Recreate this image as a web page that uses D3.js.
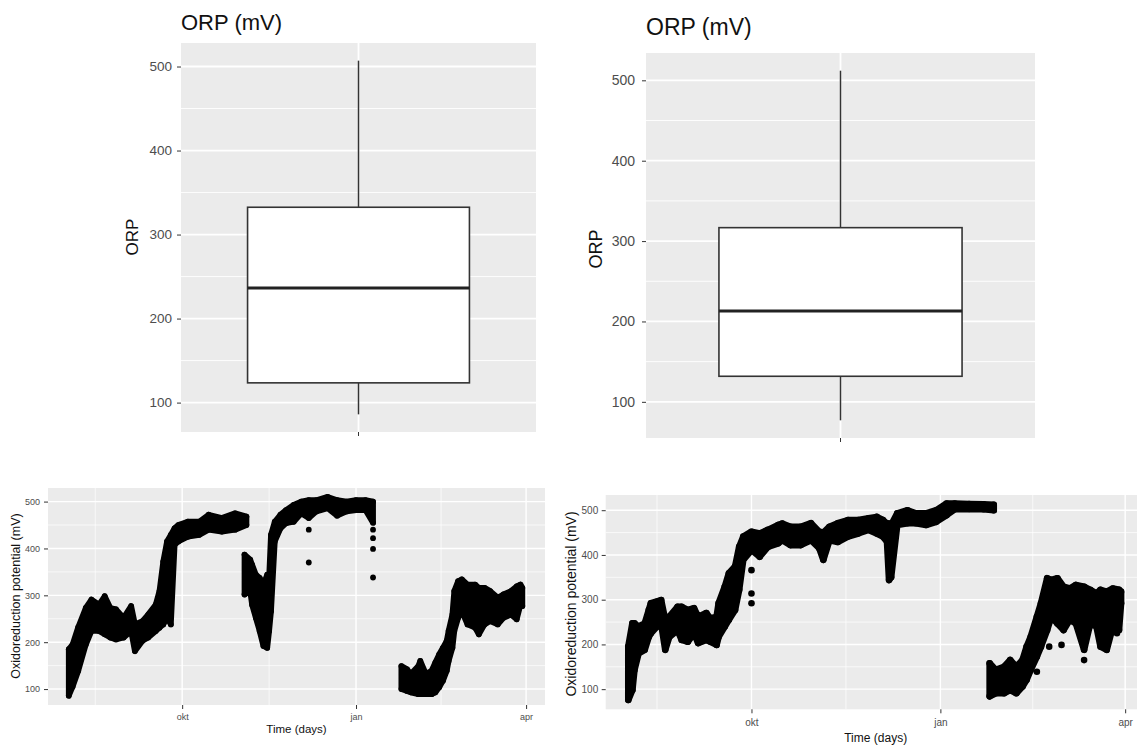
<!DOCTYPE html>
<html>
<head>
<meta charset="utf-8">
<script src="https://cdnjs.cloudflare.com/ajax/libs/d3/7.8.5/d3.min.js"></script>
<style>
  body { margin: 0; background: #fff; }
  svg { display: block; font-family: "Liberation Sans", Arial, sans-serif; }
</style>
</head>
<body>
<script>
// ---------------------------//
//          DATA              //
// ---------------------------//

// box stats: min, q1, median, q3, max
const orpLeftBox = [86, 123.5, 236.5, 332.5, 507];
const orpRightBox = [77, 131.8, 213, 316.7, 512];

const orpTicks = [100, 200, 300, 400, 500];
const orpMinor = [150, 250, 350, 450];

const monthTicks = ["2020-10-01", "2021-01-01", "2021-04-01"];
const monthLabels = ["okt", "jan", "apr"];
const monthMinor = ["2020-08-16", "2020-11-16", "2021-02-15"];
const timeRange = ["2020-07-22", "2021-04-11"];

// ORP readings, per date: [date, low, high]
const leftRun1 = [
  ["2020-08-02", 86, 185], ["2020-08-04", 105, 195], ["2020-08-07", 139, 232],
  ["2020-08-11", 195, 273], ["2020-08-14", 224, 291], ["2020-08-18", 224, 280],
  ["2020-08-21", 217, 298], ["2020-08-24", 210, 273], ["2020-08-27", 206, 270],
  ["2020-08-31", 210, 252], ["2020-09-04", 224, 277], ["2020-09-06", 181, 238],
  ["2020-09-10", 203, 245], ["2020-09-13", 210, 259], ["2020-09-17", 224, 280],
  ["2020-09-19", 231, 309], ["2020-09-21", 238, 372], ["2020-09-23", 252, 415],
  ["2020-09-25", 238, 429], ["2020-09-27", 408, 443], ["2020-09-29", 415, 450],
  ["2020-10-04", 425, 457], ["2020-10-10", 429, 457], ["2020-10-15", 440, 472],
  ["2020-10-22", 436, 465], ["2020-10-29", 440, 475], ["2020-11-04", 450, 468]
];
const leftRun2 = [
  ["2020-11-03", 302, 387], ["2020-11-06", 309, 376], ["2020-11-07", 280, 365],
  ["2020-11-09", 252, 344], ["2020-11-11", 224, 337], ["2020-11-13", 192, 323],
  ["2020-11-15", 188, 344], ["2020-11-16", 224, 337], ["2020-11-17", 266, 429],
  ["2020-11-19", 415, 457], ["2020-11-22", 443, 472], ["2020-11-25", 454, 482],
  ["2020-11-29", 457, 493], ["2020-12-03", 475, 500], ["2020-12-07", 465, 503],
  ["2020-12-11", 479, 503], ["2020-12-17", 486, 510], ["2020-12-22", 470, 503],
  ["2020-12-27", 479, 500], ["2021-01-01", 482, 503], ["2021-01-06", 482, 503],
  ["2021-01-10", 455, 500]
];
const leftRun3 = [
  ["2021-01-25", 100, 149], ["2021-01-28", 96, 142], ["2021-01-30", 93, 132],
  ["2021-02-03", 89, 149], ["2021-02-04", 89, 160], ["2021-02-07", 89, 132],
  ["2021-02-10", 89, 139], ["2021-02-12", 93, 157], ["2021-02-14", 104, 174],
  ["2021-02-16", 118, 188], ["2021-02-18", 139, 203], ["2021-02-19", 160, 224],
  ["2021-02-21", 188, 259], ["2021-02-22", 224, 309], ["2021-02-24", 252, 330],
  ["2021-02-26", 266, 334], ["2021-03-01", 238, 323], ["2021-03-05", 231, 323],
  ["2021-03-07", 217, 316], ["2021-03-10", 238, 316], ["2021-03-13", 245, 309],
  ["2021-03-17", 238, 295], ["2021-03-20", 252, 302], ["2021-03-24", 259, 309],
  ["2021-03-27", 249, 319], ["2021-03-29", 280, 323], ["2021-03-30", 277, 316]
];
const leftStray = [
  ["2020-12-07", 440], ["2020-12-07", 370], ["2021-01-10", 440],
  ["2021-01-10", 422], ["2021-01-10", 399], ["2021-01-10", 338]
];

const rightRun1 = [
  ["2020-08-02", 76, 195], ["2020-08-04", 98, 247], ["2020-08-05", 143, 247],
  ["2020-08-07", 180, 240], ["2020-08-10", 188, 247], ["2020-08-12", 217, 277],
  ["2020-08-13", 225, 292], ["2020-08-16", 240, 296], ["2020-08-18", 247, 299],
  ["2020-08-20", 188, 255], ["2020-08-22", 217, 262], ["2020-08-26", 232, 284],
  ["2020-08-28", 210, 284], ["2020-08-31", 206, 277], ["2020-09-03", 225, 281],
  ["2020-09-05", 203, 262], ["2020-09-09", 210, 270], ["2020-09-11", 206, 258],
  ["2020-09-14", 199, 262], ["2020-09-15", 217, 292], ["2020-09-18", 240, 329],
  ["2020-09-20", 255, 359], ["2020-09-23", 277, 374], ["2020-09-25", 322, 418],
  ["2020-09-27", 389, 441], ["2020-10-01", 411, 452], ["2020-10-05", 396, 448],
  ["2020-10-09", 418, 456], ["2020-10-14", 426, 467], ["2020-10-16", 433, 470],
  ["2020-10-20", 422, 463], ["2020-10-25", 422, 463], ["2020-10-30", 433, 471],
  ["2020-11-03", 415, 452], ["2020-11-05", 389, 450], ["2020-11-08", 433, 463],
  ["2020-11-12", 429, 471], ["2020-11-17", 441, 478], ["2020-11-22", 448, 478],
  ["2020-11-27", 456, 482], ["2020-12-01", 448, 485], ["2020-12-04", 441, 478],
  ["2020-12-06", 430, 470], ["2020-12-07", 344, 470], ["2020-12-08", 350, 467],
  ["2020-12-11", 467, 493], ["2020-12-16", 471, 500], ["2020-12-20", 471, 493],
  ["2020-12-25", 467, 493], ["2020-12-30", 474, 500], ["2021-01-04", 489, 515],
  ["2021-01-08", 502, 515], ["2021-01-15", 503, 514], ["2021-01-22", 502, 513],
  ["2021-01-27", 500, 512]
];
const rightRun2 = [
  ["2021-01-25", 84, 158], ["2021-01-28", 91, 143], ["2021-02-01", 91, 150],
  ["2021-02-04", 98, 165], ["2021-02-07", 91, 150], ["2021-02-10", 106, 165],
  ["2021-02-12", 121, 195], ["2021-02-14", 143, 217], ["2021-02-17", 173, 262],
  ["2021-02-19", 195, 292], ["2021-02-22", 232, 348], ["2021-02-24", 262, 344],
  ["2021-02-27", 247, 348], ["2021-03-02", 232, 329], ["2021-03-05", 255, 325],
  ["2021-03-08", 247, 333], ["2021-03-12", 188, 329], ["2021-03-15", 247, 322],
  ["2021-03-18", 240, 314], ["2021-03-20", 195, 322], ["2021-03-23", 188, 318],
  ["2021-03-26", 240, 325], ["2021-03-29", 232, 322], ["2021-03-30", 292, 318]
];
const rightStray = [
  ["2020-10-01", 366], ["2020-10-01", 314], ["2020-10-01", 292],
  ["2021-02-17", 139], ["2021-02-23", 195], ["2021-03-01", 199],
  ["2021-03-12", 165], ["2021-03-28", 225]
];

// ---------------------------//
//          CANVAS            //
// ---------------------------//

const svg = d3.select("body").append("svg")
    .attr("width", 1137)
    .attr("height", 751);

svg.append("rect").attr("width", 1137).attr("height", 751).attr("fill", "#fff");

const parse = d3.timeParse("%Y-%m-%d");
const toRows = arr => arr.map(r => ({date: parse(r[0]), lo: r[1], hi: r[2]}));
const toPts = arr => arr.map(r => ({date: parse(r[0]), v: r[1]}));

function styleAxis(g, size, pad) {
    g.select(".domain").remove();
    g.selectAll("line").attr("stroke", "#333").attr("stroke-width", 1);
    g.selectAll("text")
        .attr("fill", "#4d4d4d")
        .style("font-size", size + "px")
        .style("font-family", "'Liberation Sans', Arial, sans-serif");
}

// ---------------------------//
//        BOX PLOTS           //
// ---------------------------//

function boxPanel(o) {
    const g = svg.append("g").attr("transform", `translate(${o.left},${o.top})`);
    const y = d3.scaleLinear().domain(o.yDomain).range([o.h, 0]);
    const x = d3.scaleLinear().domain([0.4, 1.6]).range([0, o.w]);
    const s = o.stats;

    g.append("rect").attr("width", o.w).attr("height", o.h).attr("fill", "#ebebeb");

    g.selectAll(".minor").data(orpMinor).join("line")
        .attr("x1", 0).attr("x2", o.w)
        .attr("y1", d => y(d)).attr("y2", d => y(d))
        .attr("stroke", "#fff").attr("stroke-width", 0.9);
    g.selectAll(".major").data(orpTicks).join("line")
        .attr("x1", 0).attr("x2", o.w)
        .attr("y1", d => y(d)).attr("y2", d => y(d))
        .attr("stroke", "#fff").attr("stroke-width", 1.8);
    g.append("line")
        .attr("x1", x(1)).attr("x2", x(1)).attr("y1", 0).attr("y2", o.h)
        .attr("stroke", "#fff").attr("stroke-width", 1.8);

    // whiskers
    g.append("line").attr("x1", x(1)).attr("x2", x(1))
        .attr("y1", y(s[4])).attr("y2", y(s[3]))
        .attr("stroke", "#333").attr("stroke-width", 1.5);
    g.append("line").attr("x1", x(1)).attr("x2", x(1))
        .attr("y1", y(s[1])).attr("y2", y(s[0]))
        .attr("stroke", "#333").attr("stroke-width", 1.5);

    // box + median
    g.append("rect")
        .attr("x", x(0.625)).attr("width", x(1.375) - x(0.625))
        .attr("y", y(s[3])).attr("height", y(s[1]) - y(s[3]))
        .attr("fill", "#fff").attr("stroke", "#333").attr("stroke-width", 1.6);
    g.append("line")
        .attr("x1", x(0.625)).attr("x2", x(1.375))
        .attr("y1", y(s[2])).attr("y2", y(s[2]))
        .attr("stroke", "#222").attr("stroke-width", 3);

    g.append("g")
        .call(d3.axisLeft(y).tickValues(orpTicks).tickSize(4).tickPadding(o.pad))
        .call(a => styleAxis(a, o.tickFont));
    g.append("line")
        .attr("x1", x(1)).attr("x2", x(1)).attr("y1", o.h).attr("y2", o.h + 4)
        .attr("stroke", "#333");

    svg.append("text")
        .attr("x", o.left).attr("y", o.titleY)
        .style("font-size", o.titleFont + "px").attr("fill", "#111")
        .text("ORP (mV)");
    svg.append("text")
        .attr("transform", `translate(${o.labX},${o.labY}) rotate(-90)`)
        .attr("text-anchor", "middle")
        .style("font-size", o.labFont + "px").attr("fill", "#111")
        .text("ORP");
}

boxPanel({left: 181, top: 43, w: 355, h: 389, yDomain: [65, 528], stats: orpLeftBox,
    tickFont: 13.5, pad: 5, titleY: 30, titleFont: 22, labX: 138, labY: 237, labFont: 17});
boxPanel({left: 646, top: 53, w: 389, h: 385, yDomain: [55, 534], stats: orpRightBox,
    tickFont: 14, pad: 7, titleY: 35, titleFont: 23, labX: 602, labY: 249, labFont: 18});

// ---------------------------//
//       TIME SERIES          //
// ---------------------------//

function seriesPanel(o) {
    const g = svg.append("g").attr("transform", `translate(${o.left},${o.top})`);
    const x = d3.scaleTime().domain(timeRange.map(parse)).range([0, o.w]);
    const y = d3.scaleLinear().domain(o.yDomain).range([o.h, 0]);

    g.append("rect").attr("width", o.w).attr("height", o.h).attr("fill", "#ebebeb");

    g.selectAll(".hminor").data(orpMinor).join("line")
        .attr("x1", 0).attr("x2", o.w)
        .attr("y1", d => y(d)).attr("y2", d => y(d))
        .attr("stroke", "#fff").attr("stroke-width", 0.7);
    g.selectAll(".vminor").data(monthMinor.map(parse)).join("line")
        .attr("x1", d => x(d)).attr("x2", d => x(d))
        .attr("y1", 0).attr("y2", o.h)
        .attr("stroke", "#fff").attr("stroke-width", 0.7);
    g.selectAll(".hmajor").data(orpTicks).join("line")
        .attr("x1", 0).attr("x2", o.w)
        .attr("y1", d => y(d)).attr("y2", d => y(d))
        .attr("stroke", "#fff").attr("stroke-width", 1.4);
    g.selectAll(".vmajor").data(monthTicks.map(parse)).join("line")
        .attr("x1", d => x(d)).attr("x2", d => x(d))
        .attr("y1", 0).attr("y2", o.h)
        .attr("stroke", "#fff").attr("stroke-width", 1.4);

    const band = d3.area()
        .x(d => x(d.date))
        .y0(d => y(d.lo))
        .y1(d => y(d.hi));

    o.runs.forEach(run => {
        const rows = toRows(run);
        g.append("path")
            .datum(rows)
            .attr("d", band)
            .attr("fill", "#000").attr("stroke", "#000")
            .attr("stroke-width", o.r * 2).attr("stroke-linejoin", "round");
        const ends = rows.flatMap(d => [{date: d.date, v: d.lo}, {date: d.date, v: d.hi}]);
        g.selectAll(null).data(ends).join("circle")
            .attr("cx", d => x(d.date)).attr("cy", d => y(d.v))
            .attr("r", o.r).attr("fill", "#000");
    });

    g.selectAll(".stray").data(toPts(o.stray)).join("circle")
        .attr("cx", d => x(d.date)).attr("cy", d => y(d.v))
        .attr("r", o.r).attr("fill", "#000");

    g.append("g")
        .call(d3.axisLeft(y).tickValues(orpTicks).tickSize(4).tickPadding(o.pad))
        .call(a => styleAxis(a, o.tickFont));
    g.append("g")
        .attr("transform", `translate(0,${o.h})`)
        .call(d3.axisBottom(x).tickValues(monthTicks.map(parse))
            .tickFormat((d, i) => monthLabels[i]).tickSize(4).tickPadding(o.xpad))
        .call(a => styleAxis(a, o.tickFont));

    svg.append("text")
        .attr("x", o.left + o.w / 2).attr("y", o.xLabY)
        .attr("text-anchor", "middle")
        .style("font-size", o.xLabFont + "px").attr("fill", "#111")
        .text("Time (days)");
    svg.append("text")
        .attr("transform", `translate(${o.yLabX},${o.yLabY}) rotate(-90)`)
        .attr("text-anchor", "middle")
        .style("font-size", o.yLabFont + "px").attr("fill", "#111")
        .text("Oxidoreduction potential (mV)");
}

seriesPanel({left: 48, top: 488, w: 497, h: 217, yDomain: [66, 529],
    runs: [leftRun1, leftRun2, leftRun3], stray: leftStray, r: 2.9,
    tickFont: 9, pad: 4, xpad: 4.5, xLabY: 733, xLabFont: 11.5,
    yLabX: 20, yLabY: 596, yLabFont: 12.5});
seriesPanel({left: 605.7, top: 495, w: 540, h: 214.3, yDomain: [55, 534],
    runs: [rightRun1, rightRun2], stray: rightStray, r: 3.3,
    tickFont: 10, pad: 3.5, xpad: 6, xLabY: 742, xLabFont: 12,
    yLabX: 576, yLabY: 604, yLabFont: 14});
</script>
</body>
</html>
